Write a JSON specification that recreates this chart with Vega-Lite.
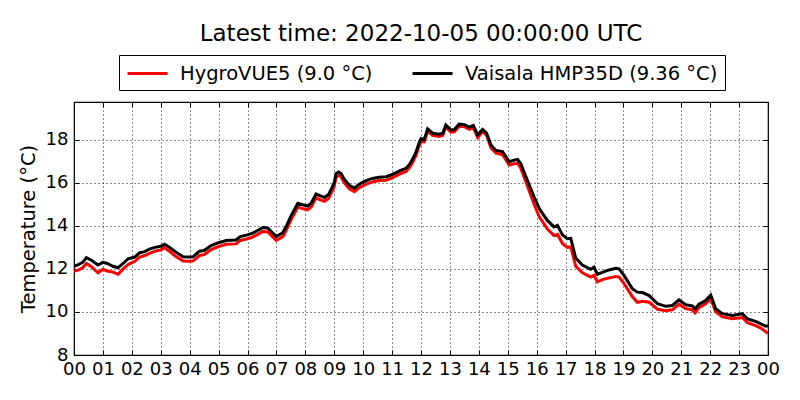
{
  "$schema": "https://vega.github.io/schema/vega-lite/v6.json",
  "width": 694,
  "height": 253,
  "autosize": {"type": "none"},
  "padding": {"left": 74, "top": 102, "right": 32, "bottom": 45},
  "background": "white",
  "title": {
    "text": "Latest time: 2022-10-05 00:00:00 UTC",
    "font": "DejaVu Sans",
    "fontSize": 23,
    "fontWeight": "normal",
    "color": "black",
    "anchor": "middle",
    "offset": 9
  },
  "config": {
    "view": {"stroke": "black", "strokeWidth": 1.2},
    "axis": {
      "labelFont": "DejaVu Sans",
      "labelFontSize": 18,
      "labelColor": "black",
      "titleFont": "DejaVu Sans",
      "titleFontSize": 19.5,
      "titleFontWeight": "normal",
      "titleColor": "black",
      "domain": false,
      "gridColor": "black",
      "gridDash": [1, 3],
      "gridWidth": 1,
      "gridOpacity": 0.9,
      "tickColor": "black",
      "tickSize": -5,
      "tickWidth": 1
    }
  },
  "data": {
    "values": [
      {"h":0.0,"hygro":11.88,"vaisala":12.12},
      {"h":0.15,"hygro":11.95,"vaisala":12.2},
      {"h":0.3,"hygro":12.05,"vaisala":12.3},
      {"h":0.43,"hygro":12.25,"vaisala":12.52},
      {"h":0.6,"hygro":12.1,"vaisala":12.4},
      {"h":0.83,"hygro":11.82,"vaisala":12.18},
      {"h":1.0,"hygro":11.98,"vaisala":12.3},
      {"h":1.15,"hygro":11.9,"vaisala":12.25},
      {"h":1.35,"hygro":11.85,"vaisala":12.12},
      {"h":1.52,"hygro":11.75,"vaisala":12.05},
      {"h":1.7,"hygro":12.0,"vaisala":12.25},
      {"h":1.87,"hygro":12.2,"vaisala":12.47},
      {"h":2.1,"hygro":12.35,"vaisala":12.55},
      {"h":2.27,"hygro":12.55,"vaisala":12.75},
      {"h":2.45,"hygro":12.62,"vaisala":12.8},
      {"h":2.61,"hygro":12.72,"vaisala":12.92},
      {"h":2.8,"hygro":12.82,"vaisala":13.0},
      {"h":3.0,"hygro":12.88,"vaisala":13.05},
      {"h":3.13,"hygro":12.98,"vaisala":13.14},
      {"h":3.3,"hygro":12.82,"vaisala":13.0},
      {"h":3.5,"hygro":12.6,"vaisala":12.8},
      {"h":3.77,"hygro":12.36,"vaisala":12.56},
      {"h":3.95,"hygro":12.35,"vaisala":12.55},
      {"h":4.11,"hygro":12.36,"vaisala":12.56},
      {"h":4.34,"hygro":12.62,"vaisala":12.82},
      {"h":4.5,"hygro":12.66,"vaisala":12.85},
      {"h":4.74,"hygro":12.9,"vaisala":13.08},
      {"h":4.97,"hygro":13.02,"vaisala":13.2},
      {"h":5.26,"hygro":13.14,"vaisala":13.32},
      {"h":5.6,"hygro":13.16,"vaisala":13.34},
      {"h":5.75,"hygro":13.32,"vaisala":13.5},
      {"h":6.0,"hygro":13.4,"vaisala":13.58},
      {"h":6.18,"hygro":13.48,"vaisala":13.66},
      {"h":6.35,"hygro":13.6,"vaisala":13.78},
      {"h":6.53,"hygro":13.74,"vaisala":13.92},
      {"h":6.7,"hygro":13.72,"vaisala":13.9},
      {"h":6.85,"hygro":13.52,"vaisala":13.7},
      {"h":6.99,"hygro":13.32,"vaisala":13.5},
      {"h":7.22,"hygro":13.5,"vaisala":13.68},
      {"h":7.35,"hygro":13.82,"vaisala":14.0},
      {"h":7.5,"hygro":14.27,"vaisala":14.45},
      {"h":7.74,"hygro":14.87,"vaisala":15.05},
      {"h":7.9,"hygro":14.8,"vaisala":14.98},
      {"h":8.08,"hygro":14.74,"vaisala":14.92},
      {"h":8.2,"hygro":14.87,"vaisala":15.05},
      {"h":8.37,"hygro":15.3,"vaisala":15.48},
      {"h":8.5,"hygro":15.22,"vaisala":15.4},
      {"h":8.66,"hygro":15.14,"vaisala":15.32},
      {"h":8.8,"hygro":15.27,"vaisala":15.45},
      {"h":8.89,"hygro":15.51,"vaisala":15.69},
      {"h":9.0,"hygro":15.82,"vaisala":16.0},
      {"h":9.06,"hygro":16.26,"vaisala":16.42},
      {"h":9.15,"hygro":16.34,"vaisala":16.5},
      {"h":9.23,"hygro":16.28,"vaisala":16.44},
      {"h":9.35,"hygro":15.99,"vaisala":16.15},
      {"h":9.52,"hygro":15.72,"vaisala":15.88},
      {"h":9.7,"hygro":15.59,"vaisala":15.75},
      {"h":9.85,"hygro":15.76,"vaisala":15.92},
      {"h":9.98,"hygro":15.86,"vaisala":16.02},
      {"h":10.15,"hygro":15.96,"vaisala":16.12},
      {"h":10.33,"hygro":16.04,"vaisala":16.2},
      {"h":10.55,"hygro":16.1,"vaisala":16.25},
      {"h":10.79,"hygro":16.12,"vaisala":16.28},
      {"h":10.95,"hygro":16.2,"vaisala":16.35},
      {"h":11.14,"hygro":16.32,"vaisala":16.47},
      {"h":11.3,"hygro":16.43,"vaisala":16.58},
      {"h":11.48,"hygro":16.52,"vaisala":16.67},
      {"h":11.6,"hygro":16.7,"vaisala":16.85},
      {"h":11.71,"hygro":16.95,"vaisala":17.1},
      {"h":11.83,"hygro":17.28,"vaisala":17.43},
      {"h":11.92,"hygro":17.65,"vaisala":17.8},
      {"h":12.0,"hygro":17.92,"vaisala":18.05},
      {"h":12.11,"hygro":17.9,"vaisala":18.0},
      {"h":12.23,"hygro":18.4,"vaisala":18.5},
      {"h":12.4,"hygro":18.2,"vaisala":18.3},
      {"h":12.63,"hygro":18.15,"vaisala":18.25},
      {"h":12.75,"hygro":18.2,"vaisala":18.3},
      {"h":12.86,"hygro":18.58,"vaisala":18.68},
      {"h":13.03,"hygro":18.35,"vaisala":18.45},
      {"h":13.15,"hygro":18.37,"vaisala":18.47},
      {"h":13.32,"hygro":18.62,"vaisala":18.72},
      {"h":13.5,"hygro":18.6,"vaisala":18.7},
      {"h":13.67,"hygro":18.48,"vaisala":18.58},
      {"h":13.81,"hygro":18.56,"vaisala":18.66},
      {"h":13.96,"hygro":18.1,"vaisala":18.22},
      {"h":14.13,"hygro":18.38,"vaisala":18.48},
      {"h":14.27,"hygro":18.2,"vaisala":18.3},
      {"h":14.42,"hygro":17.62,"vaisala":17.75},
      {"h":14.59,"hygro":17.37,"vaisala":17.5},
      {"h":14.82,"hygro":17.3,"vaisala":17.45},
      {"h":15.05,"hygro":16.82,"vaisala":16.98},
      {"h":15.22,"hygro":16.88,"vaisala":17.05},
      {"h":15.34,"hygro":16.9,"vaisala":17.08},
      {"h":15.45,"hygro":16.68,"vaisala":16.88},
      {"h":15.68,"hygro":15.85,"vaisala":16.1},
      {"h":15.91,"hygro":15.0,"vaisala":15.35},
      {"h":16.09,"hygro":14.42,"vaisala":14.8},
      {"h":16.37,"hygro":13.85,"vaisala":14.25},
      {"h":16.6,"hygro":13.55,"vaisala":13.95},
      {"h":16.72,"hygro":13.6,"vaisala":14.02},
      {"h":16.89,"hygro":13.18,"vaisala":13.58},
      {"h":17.06,"hygro":13.0,"vaisala":13.4},
      {"h":17.18,"hygro":13.02,"vaisala":13.42},
      {"h":17.35,"hygro":12.12,"vaisala":12.5},
      {"h":17.58,"hygro":11.82,"vaisala":12.18},
      {"h":17.87,"hygro":11.62,"vaisala":11.98},
      {"h":17.98,"hygro":11.7,"vaisala":12.08},
      {"h":18.1,"hygro":11.4,"vaisala":11.75},
      {"h":18.27,"hygro":11.5,"vaisala":11.84},
      {"h":18.5,"hygro":11.58,"vaisala":11.95},
      {"h":18.74,"hygro":11.65,"vaisala":12.03},
      {"h":18.85,"hygro":11.62,"vaisala":12.0},
      {"h":19.02,"hygro":11.32,"vaisala":11.7},
      {"h":19.31,"hygro":10.7,"vaisala":11.08},
      {"h":19.48,"hygro":10.45,"vaisala":10.92},
      {"h":19.66,"hygro":10.5,"vaisala":10.9},
      {"h":19.89,"hygro":10.45,"vaisala":10.76},
      {"h":20.18,"hygro":10.12,"vaisala":10.38},
      {"h":20.46,"hygro":10.06,"vaisala":10.26},
      {"h":20.69,"hygro":10.1,"vaisala":10.3},
      {"h":20.92,"hygro":10.36,"vaisala":10.56},
      {"h":21.15,"hygro":10.16,"vaisala":10.34},
      {"h":21.38,"hygro":10.1,"vaisala":10.28},
      {"h":21.48,"hygro":9.96,"vaisala":10.14},
      {"h":21.61,"hygro":10.2,"vaisala":10.36},
      {"h":21.84,"hygro":10.38,"vaisala":10.53},
      {"h":22.02,"hygro":10.62,"vaisala":10.78},
      {"h":22.19,"hygro":10.0,"vaisala":10.15},
      {"h":22.42,"hygro":9.77,"vaisala":9.92},
      {"h":22.77,"hygro":9.68,"vaisala":9.84},
      {"h":23.11,"hygro":9.74,"vaisala":9.92},
      {"h":23.29,"hygro":9.5,"vaisala":9.68},
      {"h":23.57,"hygro":9.36,"vaisala":9.56},
      {"h":23.75,"hygro":9.25,"vaisala":9.45},
      {"h":23.92,"hygro":9.08,"vaisala":9.34},
      {"h":24.0,"hygro":9.0,"vaisala":9.36}
    ]
  },
  "transform": [
    {"fold": ["hygro", "vaisala"], "as": ["sensor", "t"]}
  ],
  "resolve": {"axis": {"x": "independent", "y": "independent"}},
  "layer": [
    {
      "mark": {"type": "line", "strokeWidth": 3, "clip": true},
      "encoding": {
        "x": {
          "field": "h",
          "type": "quantitative",
          "scale": {"domain": [0, 24], "nice": false, "zero": false},
          "axis": {
            "title": null,
            "grid": true,
            "values": [0,1,2,3,4,5,6,7,8,9,10,11,12,13,14,15,16,17,18,19,20,21,22,23,24],
            "labelExpr": "(datum.value % 24 < 10 ? '0' : '') + (datum.value % 24)",
            "labelPadding": 10,
            "labelFlush": false,
            "labelOverlap": false
          }
        },
        "y": {
          "field": "t",
          "type": "quantitative",
          "scale": {"domain": [8, 19.75], "nice": false, "zero": false},
          "axis": {
            "title": "Temperature (°C)",
            "grid": true,
            "values": [8, 10, 12, 14, 16, 18],
            "labelPadding": 11,
            "titlePadding": 7,
            "labelFlush": false,
            "labelOverlap": false
          }
        },
        "color": {
          "field": "sensor",
          "type": "nominal",
          "scale": {"domain": ["hygro", "vaisala"], "range": ["#ff0000", "#000000"]},
          "legend": {
            "title": null,
            "orient": "none",
            "legendX": 45,
            "legendY": -47,
            "direction": "horizontal",
            "columns": 2,
            "strokeColor": "black",
            "cornerRadius": 0,
            "padding": 7,
            "symbolType": "M-1,0H3",
            "symbolSize": 400,
            "symbolStrokeWidth": 3,
            "labelFont": "DejaVu Sans",
            "labelFontSize": 19.5,
            "labelColor": "black",
            "labelOffset": 31,
            "columnPadding": 33,
            "labelLimit": 400,
            "labelExpr": "datum.value == 'hygro' ? 'HygroVUE5 (9.0 °C)' : 'Vaisala HMP35D (9.36 °C)'"
          }
        }
      }
    },
    {
      "mark": {"type": "line", "opacity": 0},
      "encoding": {
        "x": {
          "field": "h",
          "type": "quantitative",
          "scale": {"domain": [0, 24], "nice": false, "zero": false},
          "axis": {
            "orient": "top",
            "title": null,
            "grid": false,
            "labels": false,
            "values": [0,1,2,3,4,5,6,7,8,9,10,11,12,13,14,15,16,17,18,19,20,21,22,23,24]
          }
        },
        "y": {
          "field": "t",
          "type": "quantitative",
          "scale": {"domain": [8, 19.75], "nice": false, "zero": false},
          "axis": {
            "orient": "right",
            "title": null,
            "grid": false,
            "labels": false,
            "values": [8, 10, 12, 14, 16, 18]
          }
        },
        "detail": {"field": "sensor", "type": "nominal"}
      }
    }
  ]
}
